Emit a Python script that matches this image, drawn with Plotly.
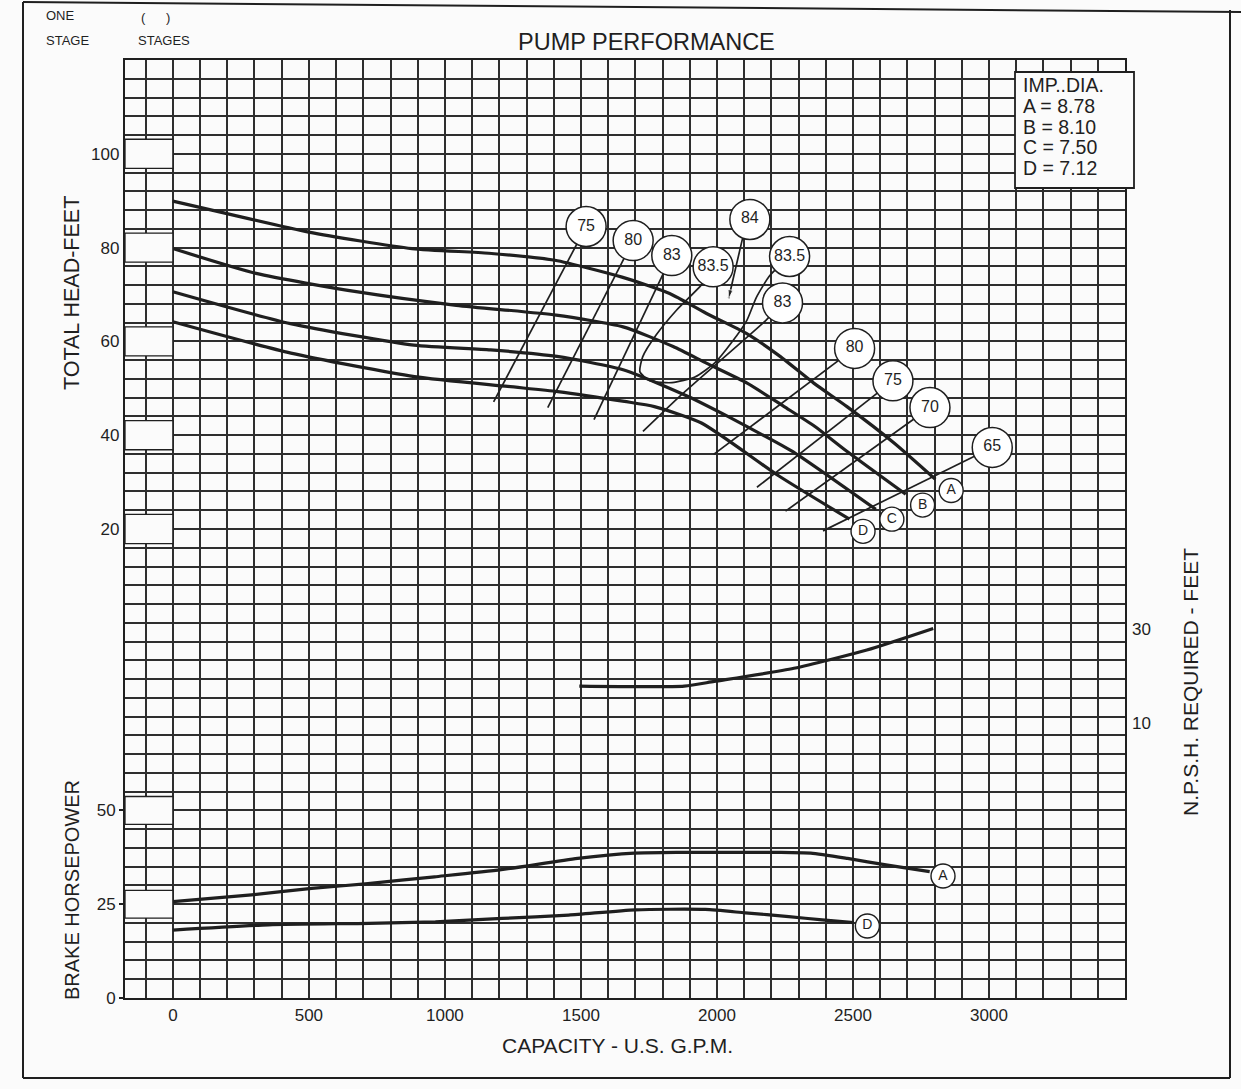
import plotly.graph_objects as go

# ---------------- data ----------------
# Head-capacity curves (U.S. GPM, feet) for impeller diameters A..D
head_A_gpm = [0, 179, 499, 879, 1161, 1404, 1651, 1826, 1960, 2108, 2232, 2356, 2478, 2650, 2803]
head_A_ft = [89.9, 87.5, 83.3, 79.8, 78.8, 77.3, 73.7, 70.2, 66.0, 61.7, 56.8, 51.1, 46.1, 38.4, 30.6]
head_B_gpm = [0, 306, 674, 1042, 1409, 1655, 1839, 1963, 2111, 2247, 2359, 2470, 2694]
head_B_ft = [79.8, 74.5, 70.6, 67.7, 65.6, 63.1, 58.9, 55.3, 51.1, 46.1, 41.9, 36.9, 27.4]
head_C_gpm = [0, 432, 886, 1168, 1412, 1658, 1892, 2040, 2176, 2287, 2584]
head_C_ft = [70.6, 63.8, 59.2, 58.2, 56.8, 53.9, 48.3, 44.0, 39.8, 36.2, 24.2]
head_D_gpm = [0, 434, 888, 1231, 1415, 1660, 1770, 1943, 2228, 2487]
head_D_ft = [64.2, 57.5, 52.5, 50.4, 49.3, 47.2, 46.1, 42.6, 31.3, 22.1]

curve_labels = ["A", "B", "C", "D"]
curve_label_gpm = [2861, 2756, 2643, 2537]
curve_label_ft = [28.2, 25.1, 22.1, 19.5]

# Iso-efficiency lines (GPM, feet), each starting at its label bubble
eff_75L_gpm = [1519, 1179]
eff_75L_ft = [84.5, 47.1]
eff_80L_gpm = [1692, 1378]
eff_80L_ft = [81.5, 45.9]
eff_83L_gpm = [1834, 1548]
eff_83L_ft = [78.3, 43.3]
eff_835_gpm = [1986, 1942, 1852, 1777, 1727, 1717, 1754, 1835, 1919, 1992, 2053, 2110, 2145, 2195, 2267]
eff_835_ft = [75.9, 72.0, 66.7, 61.4, 56.7, 53.5, 51.6, 51.2, 52.4, 55.4, 59.7, 64.5, 69.4, 74.1, 78.1]
eff_84_gpm = [2121, 2093, 2043]
eff_84_ft = [86.0, 81.7, 69.2]
eff_83R_gpm = [2241, 2180, 1869, 1728]
eff_83R_ft = [68.2, 64.5, 48.6, 40.8]
eff_80R_gpm = [2506, 1988]
eff_80R_ft = [58.5, 35.9]
eff_75R_gpm = [2647, 2147]
eff_75R_ft = [51.6, 28.9]
eff_70R_gpm = [2783, 2252]
eff_70R_ft = [45.9, 23.8]
eff_65_gpm = [3012, 2390]
eff_65_ft = [37.4, 19.6]

eff_labels = ["75", "80", "83", "83.5", "84", "83.5", "83", "80", "75", "70", "65"]
eff_label_gpm = [1519, 1692, 1834, 1986, 2121, 2267, 2241, 2506, 2647, 2783, 3012]
eff_label_ft = [84.5, 81.5, 78.3, 75.9, 86.0, 78.1, 68.2, 58.5, 51.6, 45.9, 37.4]

# NPSH required (GPM, feet)
npsh_gpm = [1494, 1880, 1990, 2283, 2551, 2795]
npsh_ft = [17.8, 17.8, 18.8, 21.6, 25.5, 30.1]

# Brake horsepower (GPM, HP)
bhp_A_gpm = [0, 289, 510, 717, 962, 1207, 1488, 1696, 1867, 2222, 2345, 2480, 2627, 2782]
bhp_A_hp = [25.7, 27.5, 29.2, 30.5, 32.3, 34.2, 37.2, 38.6, 38.8, 38.8, 38.6, 37.2, 35.4, 33.7]
bhp_D_gpm = [0, 352, 720, 965, 1210, 1455, 1700, 1957, 2104, 2264, 2387, 2503]
bhp_D_hp = [18.1, 19.5, 19.9, 20.3, 21.2, 22.1, 23.5, 23.6, 22.7, 21.7, 20.8, 20.1]
bhp_labels = ["A", "D"]
bhp_label_gpm = [2831, 2553]
bhp_label_hp = [32.5, 19.2]

# Tick labels
x_label_vals = [0, 500, 1000, 1500, 2000, 2500, 3000]
head_label_vals = [20, 40, 60, 80, 100]
bhp_label_vals = [0, 25, 50]
npsh_label_vals = [10, 30]
imp_dia_lines = ["IMP..DIA.", "A = 8.78", "B = 8.10", "C = 7.50", "D = 7.12"]

# ---------------- styling / layout helpers ----------------
INK = "#1f1f1f"
GRID = "#2e2e2e"
BG = "#fbfbfb"
FONT = "Liberation Sans, Arial, Helvetica, sans-serif"

FIG_W, FIG_H = 1241, 1089
L, R, T, B = 125, 1125, 60, 998
W, H = R - L, B - T


def px_x(px):
    return (px - L) / W


def px_y(py):
    return (B - py) / H


x_grid = list(range(-100, 3501, 100))
x_text = [str(v) if v in x_label_vals else "" for v in x_grid]
head_grid = list(range(-80, 121, 4))
head_text = [str(v) if v in head_label_vals else "" for v in head_grid]

fig = go.Figure()


def line(x, y, width, yaxis="y", **kw):
    fig.add_trace(go.Scatter(
        x=x, y=y, mode=kw.pop("mode", "lines"), yaxis=yaxis,
        line=dict(color=INK, width=width, shape="spline", smoothing=0.6),
        hoverinfo="skip", showlegend=False, **kw))


# head curves
for gx, gy in [(head_A_gpm, head_A_ft), (head_B_gpm, head_B_ft),
               (head_C_gpm, head_C_ft), (head_D_gpm, head_D_ft)]:
    line(gx, gy, 3.2)

# efficiency lines
for gx, gy in [(eff_75L_gpm, eff_75L_ft), (eff_80L_gpm, eff_80L_ft),
               (eff_83L_gpm, eff_83L_ft), (eff_835_gpm, eff_835_ft),
               (eff_83R_gpm, eff_83R_ft), (eff_80R_gpm, eff_80R_ft),
               (eff_75R_gpm, eff_75R_ft), (eff_70R_gpm, eff_70R_ft),
               (eff_65_gpm, eff_65_ft)]:
    line(gx, gy, 1.7)

# 84 line with arrow head
fig.add_trace(go.Scatter(
    x=eff_84_gpm, y=eff_84_ft, mode="lines+markers",
    line=dict(color=INK, width=1.7),
    marker=dict(symbol="arrow", size=[0, 0, 9], angleref="previous", color=INK),
    hoverinfo="skip", showlegend=False))

# NPSH curve
line(npsh_gpm, npsh_ft, 3.2, yaxis="y3")

# BHP curves
line(bhp_A_gpm, bhp_A_hp, 3.2, yaxis="y2")
line(bhp_D_gpm, bhp_D_hp, 3.2, yaxis="y2")

# label bubbles
fig.add_trace(go.Scatter(
    x=eff_label_gpm, y=eff_label_ft, mode="markers+text", text=eff_labels,
    textposition="middle center",
    marker=dict(size=40, color="white", line=dict(color=INK, width=1.5)),
    textfont=dict(size=16, family=FONT, color=INK),
    hoverinfo="skip", showlegend=False))
fig.add_trace(go.Scatter(
    x=curve_label_gpm, y=curve_label_ft, mode="markers+text", text=curve_labels,
    textposition="middle center",
    marker=dict(size=24, color="white", line=dict(color=INK, width=1.4)),
    textfont=dict(size=14, family=FONT, color=INK),
    hoverinfo="skip", showlegend=False))
fig.add_trace(go.Scatter(
    x=bhp_label_gpm, y=bhp_label_hp, yaxis="y2", mode="markers+text", text=bhp_labels,
    textposition="middle center",
    marker=dict(size=24, color="white", line=dict(color=INK, width=1.4)),
    textfont=dict(size=14, family=FONT, color=INK),
    hoverinfo="skip", showlegend=False))

# ---------------- shapes ----------------
shapes = []
# blank label boxes in the left strip
for v in head_label_vals:
    shapes.append(dict(type="rect", xref="x", yref="y", x0=-176, x1=0, y0=v - 3.1, y1=v + 3.1,
                       fillcolor=BG, line=dict(color=INK, width=1.3), layer="above"))
for v in [25, 50]:
    shapes.append(dict(type="rect", xref="x", yref="y2", x0=-176, x1=0, y0=v - 3.7, y1=v + 3.7,
                       fillcolor=BG, line=dict(color=INK, width=1.3), layer="above"))
# impeller diameter box
shapes.append(dict(type="rect", xref="paper", yref="paper",
                   x0=px_x(1015), x1=px_x(1134), y0=px_y(188), y1=px_y(72),
                   fillcolor=BG, line=dict(color=INK, width=1.8), layer="above"))
# page frame
frame = [((23, 2), (23, 1078)), ((23, 1078), (1230, 1078)), ((1230, 10), (1230, 1078)),
         ((23, 2), (1241, 12))]
for (ax0, ay0), (ax1, ay1) in frame:
    shapes.append(dict(type="line", xref="paper", yref="paper",
                       x0=px_x(ax0), y0=px_y(ay0), x1=px_x(ax1), y1=px_y(ay1),
                       line=dict(color=INK, width=2)))

# ---------------- annotations ----------------
ann = []


def text(s, px, py, size, xanchor="left", angle=0):
    ann.append(dict(text=s, x=px_x(px), y=px_y(py), xref="paper", yref="paper",
                    xanchor=xanchor, yanchor="middle", showarrow=False, textangle=angle,
                    font=dict(size=size, family=FONT, color=INK)))


text("ONE", 44, 15, 13)
text("STAGE", 44, 41, 13)
text("(", 139, 17, 13)
text(")", 164, 17, 13)
text("STAGES", 136, 41, 13)
text("PUMP PERFORMANCE", 646, 42, 23.5, xanchor="center")
for i, s in enumerate(imp_dia_lines):
    text(s, 1021, 85 + i * 20.8, 19.5)
text("TOTAL HEAD-FEET", 72, 293, 21.5, xanchor="center", angle=-90)
text("BRAKE HORSEPOWER", 72, 890, 20, xanchor="center", angle=-90)
text("N.P.S.H. REQUIRED - FEET", 1190, 682, 21, xanchor="center", angle=-90)
text("CAPACITY - U.S. G.P.M.", 617, 1045, 21, xanchor="center")

tickfont = dict(size=17, family=FONT, color=INK)

fig.update_layout(
    width=FIG_W, height=FIG_H,
    margin=dict(l=L, r=FIG_W - R, t=T, b=FIG_H - B, pad=0),
    paper_bgcolor=BG, plot_bgcolor=BG,
    showlegend=False,
    xaxis=dict(range=[-176, 3500], tickmode="array", tickvals=x_grid, ticktext=x_text,
               showgrid=True, gridcolor=GRID, gridwidth=1.7, zeroline=False,
               showline=True, linecolor=INK, linewidth=2.4, mirror=True,
               ticks="", tickfont=tickfont, fixedrange=True),
    yaxis=dict(range=[-80, 120], tickmode="array", tickvals=head_grid, ticktext=head_text,
               showgrid=True, gridcolor=GRID, gridwidth=1.7, zeroline=False,
               showline=True, linecolor=INK, linewidth=2.4, mirror=True,
               ticks="", tickfont=tickfont, side="left", fixedrange=True),
    yaxis2=dict(range=[0, 250], overlaying="y", side="left", tickmode="array",
                tickvals=bhp_label_vals, ticktext=[str(v) for v in bhp_label_vals],
                showgrid=False, zeroline=False, showline=False,
                ticks="outside", ticklen=5, tickcolor=INK, tickwidth=1.5,
                tickfont=tickfont, fixedrange=True),
    yaxis3=dict(range=[-48.7, 151.3], overlaying="y", side="right", tickmode="array",
                tickvals=npsh_label_vals, ticktext=[str(v) for v in npsh_label_vals],
                showgrid=False, zeroline=False, showline=False, ticks="",
                ticklabelstandoff=6, tickfont=tickfont, fixedrange=True),
    shapes=shapes,
    annotations=ann,
)

fig.write_html("out.html", config={"displayModeBar": False},
               post_script="document.body.style.margin='0';")
